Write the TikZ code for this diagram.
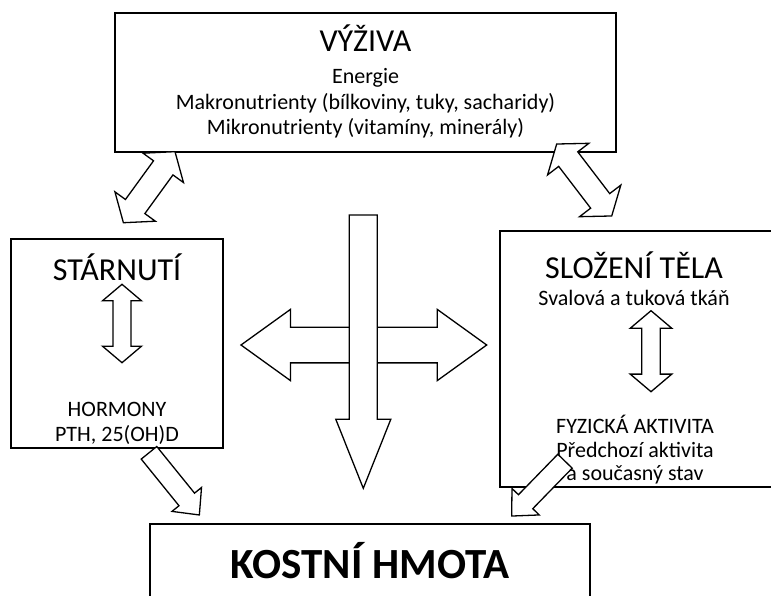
\documentclass[tikz,border=0pt]{standalone}
\usepackage{fontspec}
\setmainfont{Carlito}
\begin{document}
\begin{tikzpicture}[x=1pt,y=-1pt,
  box/.style={draw=black,line width=1.6pt,fill=white},
  blk/.style={draw=black,line width=1.3pt,fill=white,line join=miter},
  title/.style={font=\fontsize{32}{36}\selectfont,anchor=base,inner sep=0pt},
  body/.style={font=\fontsize{22}{26}\selectfont,anchor=base,inner sep=0pt},
  big/.style={font=\fontsize{43}{48}\selectfont\bfseries,anchor=base,inner sep=0pt}]
\newcommand\DblArr[7]{%
  \draw[blk,shift={(#1,#2)},rotate=#3]
    ({-#4/2},0) -- ({-#4/2+#7},#6) -- ({-#4/2+#7},#5) -- ({#4/2-#7},#5) --
    ({#4/2-#7},#6) -- ({#4/2},0) -- ({#4/2-#7},{-#6}) -- ({#4/2-#7},{-#5}) --
    ({-#4/2+#7},{-#5}) -- ({-#4/2+#7},{-#6}) -- cycle;}
\newcommand\OneArr[7]{%
  \draw[blk,shift={(#1,#2)},rotate=#3]
    (0,#5) -- ({#4-#7},#5) -- ({#4-#7},#6) -- (#4,0) -- ({#4-#7},{-#6}) --
    ({#4-#7},{-#5}) -- (0,{-#5}) -- cycle;}
\fill[white] (0,0) rectangle (771,596);
\clip (0,0) rectangle (771,596);
% boxes
\draw[box] (115,13) rectangle (616,152);
\draw[box] (11,239) rectangle (223,448);
\draw[box] (500,231) rectangle (790,487);
\draw[box] (150,524) rectangle (590,620);
\coordinate (vyzivaBox) at (365.5,82.5);
\coordinate (starBox) at (117,343);
\coordinate (slozBox) at (636,359);
\coordinate (kostBox) at (370,560);
% texts
\node[title] (vyziva) at (365.5,52) {VÝŽIVA};
\node[body] (energie) at (365.5,84) {Energie};
\node[body] (makro) at (365.5,110) {Makronutrienty (bílkoviny, tuky, sacharidy)};
\node[body] (mikro) at (365.5,135) {Mikronutrienty (vitamíny, minerály)};
\node[title] (starnuti) at (117,280) {STÁRNUTÍ};
\node[body] (hormony) at (117,416) {HORMONY};
\node[body] (pth) at (117,441) {PTH, 25(OH)D};
\node[title] (slozeni) at (634,278) {SLOŽENÍ TĚLA};
\node[body] (svalova) at (634,305) {Svalová a tuková tkáň};
\node[body] (fyz) at (635,433) {FYZICKÁ AKTIVITA};
\node[body] (pred) at (635,457) {Předchozí aktivita};
\node[body] (soucas) at (635,480) {a současný stav};
\node[big] (kost) at (370,578) {KOSTNÍ HMOTA};
% block arrows
\DblArr{149.2}{187.2}{54}{87.8}{12}{25}{20}
\DblArr{584.2}{180}{-52.6}{90.6}{12}{26}{19}
\DblArr{122}{323.5}{90}{78.4}{9}{19.5}{16.5}
\DblArr{651}{351.2}{90}{81}{9.2}{20.8}{17.6}
\DblArr{363.85}{345}{0}{245.7}{17.85}{35.65}{49.5}
\OneArr{363.3}{215}{-90}{273.3}{14}{27.5}{69}
\OneArr{565}{461.2}{-134.2}{76.5}{10}{19}{20}
\OneArr{149}{452.8}{-51}{80}{10}{19}{20}
\end{tikzpicture}
\end{document}
